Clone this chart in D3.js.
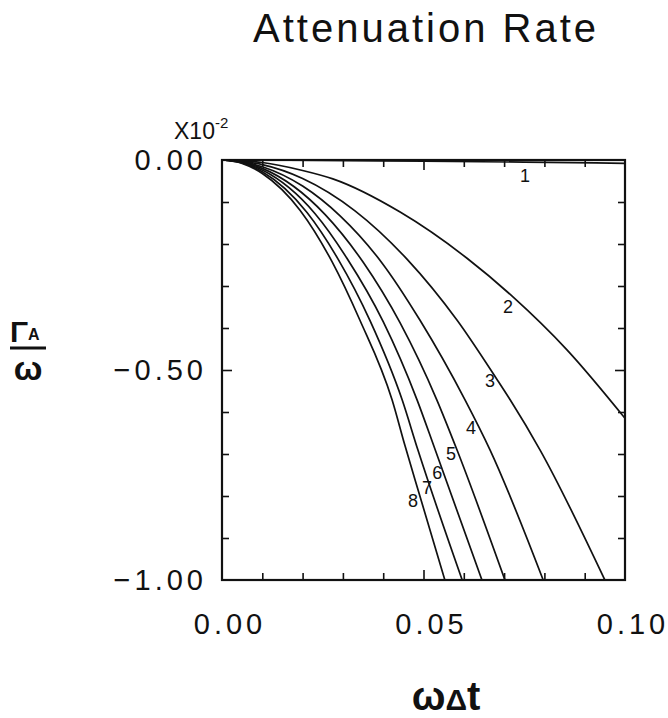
<!DOCTYPE html>
<html>
<head>
<meta charset="utf-8">
<script src="https://d3js.org/d3.v7.min.js"></script>
<style>
body{margin:0;background:#fff;}
svg text{font-family:"Liberation Sans",Arial,sans-serif;fill:#111;}
</style>
</head>
<body>
<div id="chart"></div>
<script>
// curves: [omega*dt, Gamma_A/omega (x1e-2)]
var curve1 = [[0,0],[0.025,-0.001],[0.05,-0.003],[0.075,-0.005],[0.1,-0.008]];
var curve2 = [[0,0],[0.005,-0.002],[0.01,-0.006],[0.02,-0.025],[0.0275,-0.045],[0.0442,-0.124],[0.0608,-0.234],[0.0722,-0.326],[0.0856,-0.452],[0.1,-0.615]];
var curve3 = [[0,0],[0.005,-0.003],[0.01,-0.011],[0.02,-0.044],[0.033,-0.121],[0.0459,-0.236],[0.0583,-0.381],[0.0682,-0.522],[0.0715,-0.571],[0.0789,-0.69],[0.095,-1.0]];
var curve4 = [[0,0],[0.005,-0.004],[0.01,-0.016],[0.02,-0.062],[0.0293,-0.133],[0.0397,-0.245],[0.0491,-0.381],[0.0603,-0.571],[0.0665,-0.69],[0.0797,-1.0]];
var curve5 = [[0,0],[0.005,-0.005],[0.01,-0.02],[0.0256,-0.13],[0.035,-0.243],[0.0442,-0.388],[0.0533,-0.571],[0.0583,-0.69],[0.0702,-1.0]];
var curve6 = [[0,0],[0.005,-0.006],[0.01,-0.024],[0.0231,-0.128],[0.031,-0.234],[0.04,-0.385],[0.0484,-0.571],[0.0529,-0.69],[0.0645,-1.0]];
var curve7 = [[0,0],[0.005,-0.007],[0.01,-0.028],[0.0211,-0.125],[0.0288,-0.236],[0.0367,-0.382],[0.0447,-0.571],[0.0486,-0.69],[0.0596,-1.0]];
var curve8 = [[0,0],[0.005,-0.008],[0.01,-0.032],[0.0194,-0.12],[0.0273,-0.242],[0.0342,-0.381],[0.0422,-0.571],[0.0454,-0.68],[0.0491,-0.8],[0.0553,-1.0]];

var curveNames = ["1","2","3","4","5","6","7","8"];
var labelX = [0.0752,0.071,0.0665,0.0618,0.0568,0.0534,0.0509,0.0474];
var labelY = [-0.036,-0.35,-0.524,-0.636,-0.70,-0.745,-0.779,-0.81];

var xTickLabels = [0, 0.05, 0.10];
var yTickLabels = [0, -0.5, -1.0];

function init(){
    var w = 668, h = 718;
    var left = 222, right = 625, top = 160, bottom = 580;

    var curves = [curve1,curve2,curve3,curve4,curve5,curve6,curve7,curve8];

    var svg = d3.select("#chart").append("svg")
        .attr("width", w).attr("height", h);

    var xScale = d3.scaleLinear().domain([0, 0.1]).range([left, right]);
    var yScale = d3.scaleLinear().domain([-1, 0]).range([bottom, top]);

    svg.append("defs").append("clipPath").attr("id","plotClip")
        .append("rect").attr("x",left).attr("y",top-2)
        .attr("width",right-left).attr("height",bottom-top+2);

    // ticks on all four sides, pointing in
    function tickAxis(axis, tx, ty, vals){
        var g = svg.append("g").attr("transform","translate("+tx+","+ty+")")
            .call(axis.tickValues(vals).tickFormat("").tickSizeOuter(0));
        g.select(".domain").remove();
        g.selectAll("line").attr("stroke","#111").attr("stroke-width",1.6);
        return g;
    }
    var xMinor = d3.range(1,10).map(function(i){return i/100;}).filter(function(v){return Math.abs(v-0.05)>1e-9;});
    var yMinor = d3.range(1,10).map(function(i){return -i/10;}).filter(function(v){return Math.abs(v+0.5)>1e-9;});

    tickAxis(d3.axisBottom(xScale).tickSizeInner(-7), 0, bottom, xMinor);
    tickAxis(d3.axisBottom(xScale).tickSizeInner(-10), 0, bottom, [0.05]);
    tickAxis(d3.axisTop(xScale).tickSizeInner(-7), 0, top, xMinor);
    tickAxis(d3.axisTop(xScale).tickSizeInner(-10), 0, top, [0.05]);
    tickAxis(d3.axisLeft(yScale).tickSizeInner(-7), left, 0, yMinor);
    tickAxis(d3.axisLeft(yScale).tickSizeInner(-10), left, 0, [-0.5]);
    tickAxis(d3.axisRight(yScale).tickSizeInner(-7), right, 0, yMinor);
    tickAxis(d3.axisRight(yScale).tickSizeInner(-10), right, 0, [-0.5]);

    // frame
    svg.append("rect")
        .attr("x",left).attr("y",top)
        .attr("width",right-left).attr("height",bottom-top)
        .attr("fill","none").attr("stroke","#111").attr("stroke-width",2.2);

    // curves
    var line = d3.line()
        .x(function(d){ return xScale(d[0]); })
        .y(function(d){ return yScale(d[1]); })
        .curve(d3.curveMonotoneX);

    svg.append("g").attr("clip-path","url(#plotClip)")
        .selectAll("path").data(curves).enter().append("path")
        .attr("d", line)
        .attr("fill","none")
        .attr("stroke","#111")
        .attr("stroke-width",1.7);

    svg.selectAll(".clabel").data(curveNames).enter().append("text")
        .attr("class","clabel")
        .attr("x", function(d,i){ return xScale(labelX[i]); })
        .attr("y", function(d,i){ return yScale(labelY[i]); })
        .attr("dy","0.36em")
        .attr("text-anchor","middle")
        .style("font-size","18px")
        .text(function(d){ return d; });

    // tick labels
    svg.selectAll(".xlab").data(xTickLabels).enter().append("text")
        .attr("class","xlab")
        .attr("x", function(d){ return xScale(d)+8; })
        .attr("y", bottom+54)
        .attr("text-anchor","middle")
        .style("font-size","29px").style("letter-spacing","4px")
        .text(function(d){ return d3.format(".2f")(d); });

    svg.selectAll(".ylab").data(yTickLabels).enter().append("text")
        .attr("class","ylab")
        .attr("x", left-15)
        .attr("y", function(d){ return yScale(d); })
        .attr("dy","0.36em")
        .attr("text-anchor","end")
        .style("font-size","29px").style("letter-spacing","4px")
        .text(function(d){ return d3.format(".2f")(d).replace("-","\u2212"); });

    // exponent
    var ex = svg.append("text").attr("x",174).attr("y",139).style("font-size","23px");
    ex.append("tspan").text("X10");
    ex.append("tspan").attr("dy",-11).style("font-size","15px").text("-2");

    // title
    svg.append("text")
        .attr("x",426).attr("y",42)
        .attr("text-anchor","middle")
        .style("font-size","40px").style("letter-spacing","3px")
        .text("Attenuation Rate");

    // x title
    var xt = svg.append("text").attr("x",446).attr("y",710)
        .attr("text-anchor","middle").style("font-weight","bold").style("font-size","40px");
    xt.append("tspan").text("ω");
    xt.append("tspan").style("font-size","30px").text("Δ");
    xt.append("tspan").text("t");

    // y title as fraction
    var yt = svg.append("text").attr("x",10).attr("y",342)
        .style("font-weight","bold").style("font-size","30px");
    yt.append("tspan").text("Γ");
    yt.append("tspan").attr("dy",-2).style("font-size","16px").text("A");
    svg.append("line")
        .attr("x1",10).attr("x2",46).attr("y1",348).attr("y2",348)
        .attr("stroke","#111").attr("stroke-width",3);
    svg.append("text").attr("x",28).attr("y",380)
        .attr("text-anchor","middle")
        .style("font-weight","bold").style("font-size","34px")
        .text("ω");
}

window.onload = init;
</script>
</body>
</html>
